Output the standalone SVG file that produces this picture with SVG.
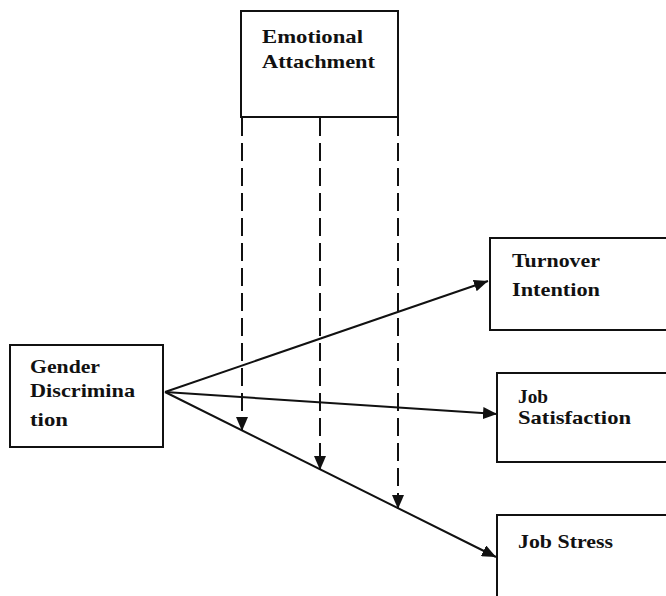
<svg xmlns="http://www.w3.org/2000/svg" width="666" height="596" viewBox="0 0 666 596">
<style>
.box{fill:#fff;stroke:#111;stroke-width:2}
.t{font-family:"Liberation Serif","Times New Roman",serif;font-weight:bold;font-size:19.5px;fill:#111}
.ln{stroke:#111;stroke-width:2;fill:none}
.dash{stroke:#111;stroke-width:2;fill:none;stroke-dasharray:18 7}
</style>
<defs>
<marker id="ah" viewBox="0 0 14 12" refX="14" refY="6" markerWidth="14" markerHeight="12" markerUnits="userSpaceOnUse" orient="auto">
<path d="M0,0 L14,6 L0,12 z" fill="#111"/>
</marker>
</defs>
<rect width="666" height="596" fill="#fff"/>
<g id="connectors">
<line class="dash" x1="242" y1="118" x2="242" y2="431" marker-end="url(#ah)"/>
<line class="dash" x1="320" y1="118" x2="320" y2="470" marker-end="url(#ah)"/>
<line class="dash" x1="398" y1="118" x2="398" y2="509" marker-end="url(#ah)"/>
<line class="ln" x1="165" y1="392" x2="488" y2="281" marker-end="url(#ah)"/>
<line class="ln" x1="165" y1="392" x2="497" y2="414" marker-end="url(#ah)"/>
<line class="ln" x1="165" y1="392" x2="496" y2="557" marker-end="url(#ah)"/>
</g>
<g id="emotional">
<rect class="box" x="241" y="11" width="157" height="106"/>
<text class="t" x="262" y="43" textLength="101" lengthAdjust="spacingAndGlyphs">Emotional</text>
<text class="t" x="262" y="68" textLength="113" lengthAdjust="spacingAndGlyphs">Attachment</text>
</g>
<g id="gender">
<rect class="box" x="10" y="345" width="153" height="102"/>
<text class="t" x="30" y="373" textLength="70" lengthAdjust="spacingAndGlyphs">Gender</text>
<text class="t" x="30" y="397" textLength="105" lengthAdjust="spacingAndGlyphs">Discrimina</text>
<text class="t" x="30" y="426" textLength="38" lengthAdjust="spacingAndGlyphs">tion</text>
</g>
<g id="turnover">
<rect class="box" x="490" y="238" width="180" height="92"/>
<text class="t" x="512" y="267" textLength="88" lengthAdjust="spacingAndGlyphs">Turnover</text>
<text class="t" x="512" y="296" textLength="88" lengthAdjust="spacingAndGlyphs">Intention</text>
</g>
<g id="satisfaction">
<rect class="box" x="497" y="373" width="173" height="89"/>
<text class="t" x="518" y="403" textLength="30" lengthAdjust="spacingAndGlyphs">Job</text>
<text class="t" x="518" y="424" textLength="113" lengthAdjust="spacingAndGlyphs">Satisfaction</text>
</g>
<g id="stress">
<rect class="box" x="497" y="515" width="173" height="90"/>
<text class="t" x="518" y="548" textLength="95" lengthAdjust="spacingAndGlyphs">Job Stress</text>
</g>
</svg>
